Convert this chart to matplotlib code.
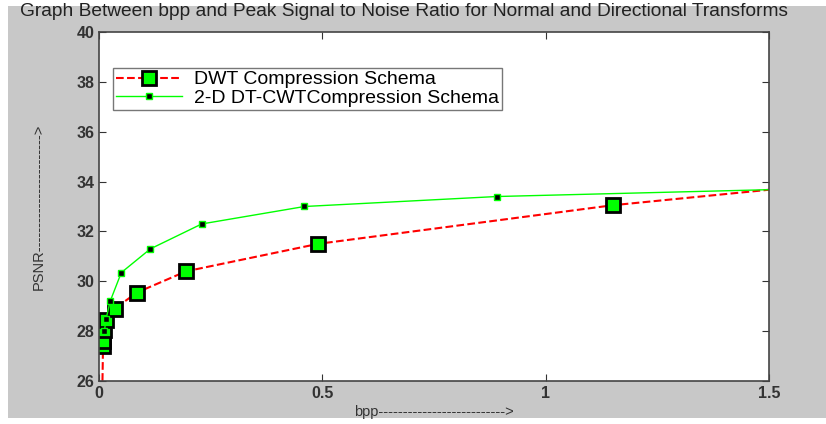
import matplotlib
matplotlib.use('Agg')
import matplotlib.pyplot as plt
from matplotlib.patches import Rectangle

plt.rcParams['font.family'] = ['Liberation Sans', 'DejaVu Sans']

# DWT curve (big markers)
dwt_bpp = [0.006, 0.009, 0.010, 0.012, 0.016, 0.035, 0.085, 0.195, 0.49, 1.15, 1.6]
dwt_psnr = [24.0, 27.4, 27.6, 28.05, 28.45, 28.9, 29.55, 30.4, 31.5, 33.05, 33.85]

# DT-CWT curve (small markers)
cwt_bpp = [0.012, 0.016, 0.025, 0.05, 0.115, 0.23, 0.46, 0.89, 1.6]
cwt_psnr = [28.0, 28.5, 29.2, 30.35, 31.3, 32.3, 33.0, 33.4, 33.72]

x_ticks = [0, 0.5, 1, 1.5]
y_ticks = [26, 28, 30, 32, 34, 36, 38, 40]

fig = plt.figure(figsize=(8.26, 4.24), dpi=100)
fig.patch.set_facecolor('white')
fig.patches.append(Rectangle((8 / 826, 6 / 424), 818 / 826, 412 / 424,
                             transform=fig.transFigure, facecolor='#c8c8c8',
                             edgecolor='none', zorder=-1))

ax = fig.add_axes([99 / 826, 1 - 381 / 424, 670 / 826, 349 / 424])
ax.set_facecolor('white')

ax.plot(dwt_bpp, dwt_psnr, color='red', linestyle='--', linewidth=1.5,
        marker='s', markersize=10.5, markerfacecolor='#00ff00',
        markeredgecolor='black', markeredgewidth=2,
        label='DWT Compression Schema')
ax.plot(cwt_bpp, cwt_psnr, color='#00ff00', linestyle='-', linewidth=1,
        marker='s', markersize=5, markerfacecolor='black',
        markeredgecolor='#00ff00', markeredgewidth=1,
        label='2-D DT-CWTCompression Schema')

ax.set_xlim(0, 1.5)
ax.set_ylim(26, 40)
ax.set_xticks(x_ticks)
ax.set_xticklabels(['0', '0.5', '1', '1.5'])
ax.set_yticks(y_ticks)
ax.tick_params(direction='in', top=True, right=True, length=5,
               labelsize=11.5, labelcolor='#333333', color='#333333')
for lbl in ax.get_xticklabels() + ax.get_yticklabels():
    lbl.set_fontweight('bold')
for s in ax.spines.values():
    s.set_color('#444444')
    s.set_linewidth(1.2)

ax.set_xlabel('bpp-------------------------->', fontsize=10.5, color='#333333', labelpad=3)
ax.set_ylabel('PSNR------------------------>', fontsize=10.5, color='#333333', labelpad=22)
fig.text(20 / 826, 1 - 12 / 424,
         'Graph Between bpp and Peak Signal to Noise Ratio for Normal and Directional Transforms',
         fontsize=13.8, color='#222222', ha='left', va='center')

leg = ax.legend(loc='upper left', bbox_to_anchor=(0.021, 0.897), fontsize=14,
                frameon=True, fancybox=False, edgecolor='#555555',
                borderpad=0.15, labelspacing=0.05, handlelength=3.4,
                handletextpad=0.6, borderaxespad=0)
leg.get_frame().set_linewidth(1)

fig.savefig('out.png', dpi=100, facecolor=fig.get_facecolor())
